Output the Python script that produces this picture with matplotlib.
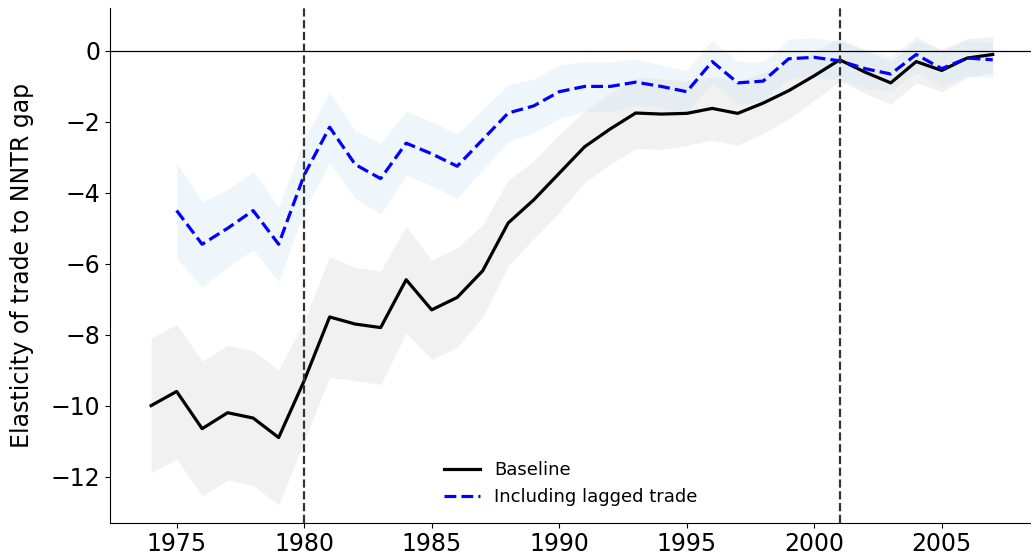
import matplotlib
matplotlib.use("Agg")
import matplotlib.pyplot as plt
import numpy as np

years_b = list(range(1974, 2008))
baseline = [-10.0,-9.6,-10.65,-10.2,-10.35,-10.9,-9.3,-7.5,-7.7,-7.8,-6.45,-7.3,-6.95,-6.2,-4.85,-4.2,-3.45,-2.7,-2.2,-1.75,-1.78,-1.76,-1.62,-1.76,-1.47,-1.12,-0.7,-0.25,-0.6,-0.9,-0.3,-0.55,-0.2,-0.1]
base_se = [1.9,1.9,1.9,1.9,1.9,1.9,1.7,1.7,1.6,1.6,1.5,1.4,1.4,1.3,1.2,1.1,1.1,1.0,1.0,1.0,1.0,0.9,0.9,0.9,0.85,0.8,0.7,0.6,0.6,0.6,0.6,0.6,0.55,0.5]

years_l = list(range(1975, 2008))
lagged = [-4.5,-5.45,-5.0,-4.5,-5.45,-3.5,-2.15,-3.2,-3.6,-2.6,-2.9,-3.25,-2.5,-1.75,-1.55,-1.15,-1.0,-1.0,-0.88,-1.0,-1.15,-0.3,-0.9,-0.85,-0.22,-0.18,-0.28,-0.5,-0.65,-0.1,-0.5,-0.2,-0.25]
lag_se = [1.35,1.2,1.1,1.1,1.05,1.0,1.0,0.95,1.0,0.9,0.9,0.9,0.85,0.8,0.75,0.75,0.7,0.7,0.65,0.6,0.6,0.6,0.6,0.55,0.55,0.55,0.55,0.55,0.5,0.5,0.5,0.5,0.5]

plt.rcParams['font.size'] = 17
fig, ax = plt.subplots(figsize=(10.31, 5.59), dpi=100)
b = np.array(baseline); bs = np.array(base_se)
l = np.array(lagged); ls = np.array(lag_se)
ax.fill_between(years_b, b - bs, b + bs, color='#d9d9d9', alpha=0.35, lw=0)
ax.fill_between(years_l, l - ls, l + ls, color='#cfe4f5', alpha=0.35, lw=0)
ax.plot(years_b, b, color='black', lw=2.3, label='Baseline')
ax.plot(years_l, l, color='blue', lw=2.3, ls='--', label='Including lagged trade')
ax.axhline(0, color='black', lw=0.9)
for x in (1980, 2001):
    ax.axvline(x, color='#333333', ls='--', lw=1.6)
ax.set_xlim(1972.4, 2008.5)
ax.set_ylim(-13.3, 1.2)
ax.set_xticks(range(1975, 2006, 5))
ax.set_yticks(range(-12, 1, 2))
ax.set_ylabel('Elasticity of trade to NNTR gap', labelpad=12)
ax.spines['top'].set_visible(False)
ax.spines['right'].set_visible(False)
ax.legend(loc='lower center', frameon=False, fontsize=13, bbox_to_anchor=(0.5, 0.0))
fig.subplots_adjust(left=0.107, right=1.0, top=0.985, bottom=0.065)
fig.savefig('out.png', dpi=100)
